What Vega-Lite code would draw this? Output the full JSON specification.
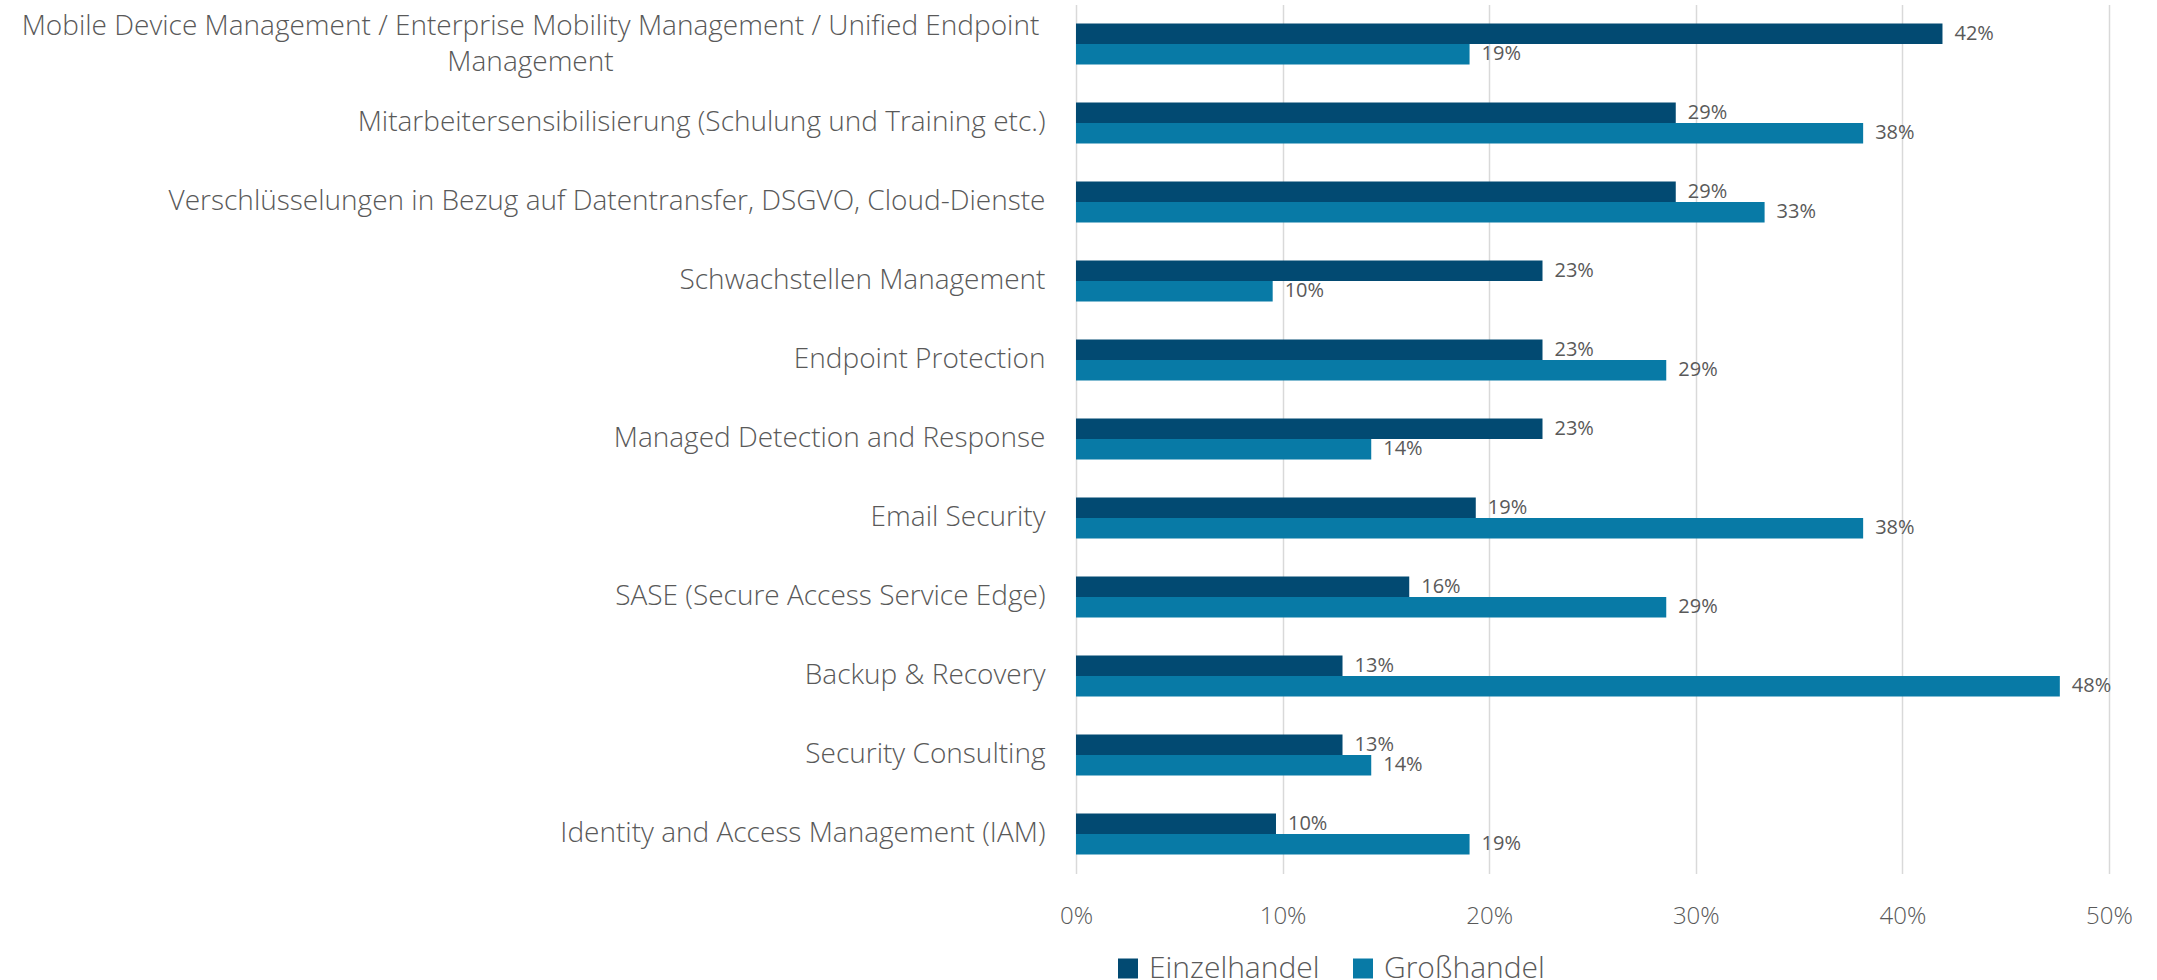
{
  "$schema": "https://vega.github.io/schema/vega-lite/v6.json",
  "width": 1033,
  "height": 869,
  "autosize": {"type": "none"},
  "padding": {"left": 1076, "top": 4.5, "right": 48, "bottom": 106.5},
  "background": "white",
  "config": {"view": {"stroke": null}, "font": "Open Sans"},
  "data": {"values": [
    {"category": "Mobile Device Management / Enterprise Mobility Management / Unified Endpoint Management", "series": "Einzelhandel", "value": 0.4194},
    {"category": "Mobile Device Management / Enterprise Mobility Management / Unified Endpoint Management", "series": "Großhandel", "value": 0.1905},
    {"category": "Mitarbeitersensibilisierung (Schulung und Training etc.)", "series": "Einzelhandel", "value": 0.2903},
    {"category": "Mitarbeitersensibilisierung (Schulung und Training etc.)", "series": "Großhandel", "value": 0.3810},
    {"category": "Verschlüsselungen in Bezug auf Datentransfer, DSGVO, Cloud-Dienste", "series": "Einzelhandel", "value": 0.2903},
    {"category": "Verschlüsselungen in Bezug auf Datentransfer, DSGVO, Cloud-Dienste", "series": "Großhandel", "value": 0.3333},
    {"category": "Schwachstellen Management", "series": "Einzelhandel", "value": 0.2258},
    {"category": "Schwachstellen Management", "series": "Großhandel", "value": 0.0952},
    {"category": "Endpoint Protection", "series": "Einzelhandel", "value": 0.2258},
    {"category": "Endpoint Protection", "series": "Großhandel", "value": 0.2857},
    {"category": "Managed Detection and Response", "series": "Einzelhandel", "value": 0.2258},
    {"category": "Managed Detection and Response", "series": "Großhandel", "value": 0.1429},
    {"category": "Email Security", "series": "Einzelhandel", "value": 0.1935},
    {"category": "Email Security", "series": "Großhandel", "value": 0.3810},
    {"category": "SASE (Secure Access Service Edge)", "series": "Einzelhandel", "value": 0.1613},
    {"category": "SASE (Secure Access Service Edge)", "series": "Großhandel", "value": 0.2857},
    {"category": "Backup & Recovery", "series": "Einzelhandel", "value": 0.1290},
    {"category": "Backup & Recovery", "series": "Großhandel", "value": 0.4762},
    {"category": "Security Consulting", "series": "Einzelhandel", "value": 0.1290},
    {"category": "Security Consulting", "series": "Großhandel", "value": 0.1429},
    {"category": "Identity and Access Management (IAM)", "series": "Einzelhandel", "value": 0.0968},
    {"category": "Identity and Access Management (IAM)", "series": "Großhandel", "value": 0.1905}
  ]},
  "encoding": {
    "y": {
      "field": "category", "type": "nominal", "sort": null,
      "scale": {"paddingInner": 0.481, "paddingOuter": 0.2405},
      "axis": {
        "title": null, "domain": false, "ticks": false,
        "labelFontSize": 28, "labelFontWeight": 300, "labelColor": "#595959",
        "labelLimit": 1100, "labelLineHeight": 36,
        "labelAlign": {"condition": {"test": "indexof(datum.value, 'Mobile Device') == 0", "value": "center"}, "value": "right"},
        "labelPadding": {"condition": {"test": "indexof(datum.value, 'Mobile Device') == 0", "value": 546}, "value": 31},
        "labelOffset": {"condition": {"test": "indexof(datum.value, 'Mobile Device') == 0", "value": -17}, "value": 0},
        "labelExpr": "indexof(datum.value, 'Mobile Device') == 0 ? ['Mobile Device Management / Enterprise Mobility Management / Unified Endpoint', 'Management'] : datum.label"
      }
    },
    "yOffset": {"field": "series", "type": "nominal", "sort": ["Einzelhandel", "Großhandel"], "scale": {"paddingInner": 0, "paddingOuter": 0}},
    "x": {
      "field": "value", "type": "quantitative",
      "scale": {"domain": [0, 0.5], "nice": false},
      "axis": {
        "title": null, "format": ".0%", "values": [0, 0.1, 0.2, 0.3, 0.4, 0.5],
        "domain": false, "ticks": false, "grid": true, "gridColor": "#d9d9d9", "gridWidth": 1.5,
        "labelFontSize": 24, "labelFontWeight": 300, "labelColor": "#595959", "labelPadding": 31, "labelFlush": false
      }
    }
  },
  "layer": [
    {
      "mark": {"type": "bar"},
      "encoding": {
        "color": {
          "field": "series", "type": "nominal",
          "scale": {"domain": ["Einzelhandel", "Großhandel"], "range": ["#024A72", "#087AA6"]},
          "legend": {
            "title": null, "orient": "none", "direction": "horizontal", "legendX": 37, "legendY": 949,
            "symbolType": "square", "symbolSize": 400, "symbolStrokeWidth": 0,
            "labelFontSize": 30, "labelFontWeight": 300, "labelColor": "#595959", "labelOffset": 6,
            "labelLimit": 400, "columnPadding": 28
          }
        }
      }
    },
    {
      "mark": {"type": "text", "align": "left", "baseline": "middle", "dx": 12, "fontSize": 20, "fontWeight": 400, "color": "#595959"},
      "encoding": {"text": {"field": "value", "type": "quantitative", "format": ".0%"}}
    }
  ]
}
